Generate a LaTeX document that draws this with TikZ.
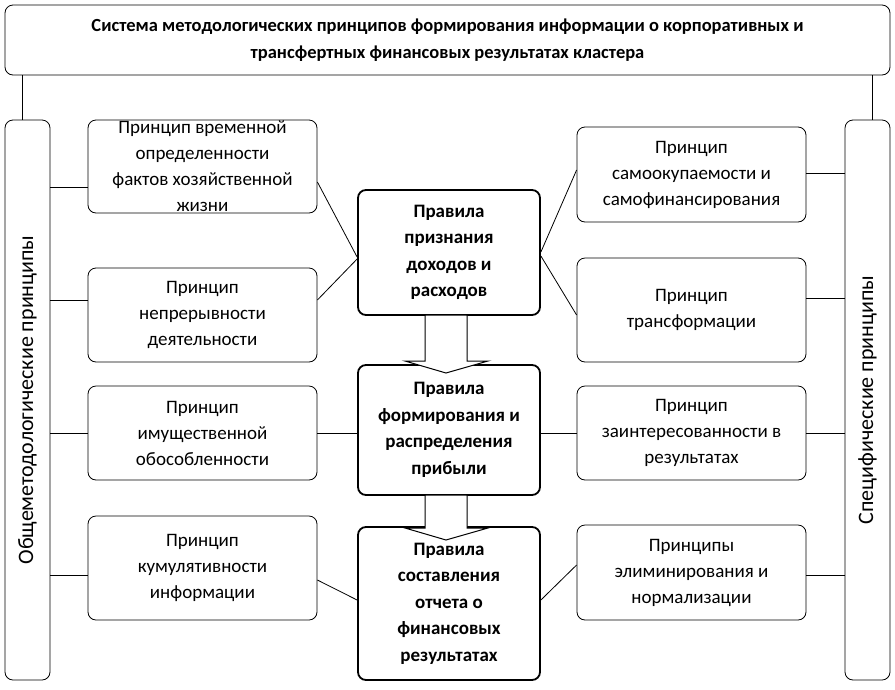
\documentclass[tikz,border=0pt]{standalone}
\usepackage{fontspec}
\setmainfont{Carlito}
\begin{document}
\begin{tikzpicture}[x=1pt,y=-1pt,
  box/.style={draw,rounded corners=8pt,line width=0.8pt,align=center,font=\fontsize{19}{26}\selectfont,inner sep=0pt},
  cbox/.style={box,line width=1.8pt,font=\fontsize{19}{26.5}\selectfont\bfseries},
  harrow/.style={draw,fill=white,line width=1pt},
  ln/.style={line width=0.8pt}]
\useasboundingbox (0,0) rectangle (895,689);
\node[box,minimum width=885,minimum height=70,font=\fontsize{18.5}{27}\selectfont\bfseries] (top) at (447.5,40) {Система методологических принципов формирования информации о корпоративных и\\трансфертных финансовых результатах кластера};
\node[box,minimum width=45,minimum height=560] (L) at (27.5,400) {};
\node[rotate=90,font=\fontsize{22}{24}\selectfont] at (L.center) {Общеметодологические принципы};
\node[box,minimum width=45,minimum height=560] (R) at (867.5,400) {};
\node[rotate=90,font=\fontsize{22}{24}\selectfont] at (R.center) {Специфические принципы};
\draw[ln] (top.south -| L.north) ++(-5,0) coordinate (tl) -- (tl |- L.north);
\draw[ln] (top.south -| R.north) ++(5,0) coordinate (tr) -- (tr |- R.north);

\node[box,minimum width=229,minimum height=93] (l1) at (202.5,166.5) {Принцип временной\\определенности\\фактов хозяйственной\\жизни};
\node[box,minimum width=229,minimum height=94] (l2) at (202.5,315) {Принцип\\непрерывности\\деятельности};
\node[box,minimum width=229,minimum height=94] (l3) at (202.5,433) {Принцип\\имущественной\\обособленности};
\node[box,minimum width=229,minimum height=104] (l4) at (202.5,568) {Принцип\\кумулятивности\\информации};
\node[box,minimum width=229,minimum height=95] (r1) at (691.5,174.5) {Принцип\\самоокупаемости и\\самофинансирования};
\node[box,minimum width=229,minimum height=104] (r2) at (691.5,310) {Принцип\\трансформации};
\node[box,minimum width=229,minimum height=94] (r3) at (691.5,433) {Принцип\\заинтересованности в\\результатах};
\node[box,minimum width=229,minimum height=95] (r4) at (691.5,572.5) {Принципы\\элиминирования и\\нормализации};

\node[cbox,minimum width=182,minimum height=125] (c1) at (449,252.5) {Правила\\признания\\доходов и\\расходов};
\node[cbox,minimum width=182,minimum height=130] (c2) at (449,430) {Правила\\формирования и\\распределения\\прибыли};
\node[cbox,minimum width=182,minimum height=153] (c3) at (449,603.5) {Правила\\составления\\отчета о\\финансовых\\результатах};

\draw[harrow] (425,315) -- (467,315) -- (467,361) -- (488,361) -- (446,373) -- (405,361) -- (425,361) -- cycle;
\draw[harrow] (425,495) -- (467,495) -- (467,528) -- (488,528) -- (446,540) -- (405,528) -- (425,528) -- cycle;

\foreach \n/\y in {l1/187,l2/300,l3/433,l4/575}{\draw[ln] (L.east |- 0,\y) -- (\n.west |- 0,\y);}
\foreach \n/\y in {r1/173,r2/298,r3/433,r4/575}{\draw[ln] (R.west |- 0,\y) -- (\n.east |- 0,\y);}
\draw[ln] (l1.east |- 0,182) -- (c1.west |- 0,257);
\draw[ln] (l2.east |- 0,300) -- (c1.west |- 0,259);
\draw[ln] (l3.east) -- (c2.west |- 0,433);
\draw[ln] (l4.east |- 0,580) -- (c3.west |- 0,600);
\draw[ln] (r1.west |- 0,170) -- (c1.east |- 0,252);
\draw[ln] (r2.west |- 0,315) -- (c1.east |- 0,256);
\draw[ln] (r3.west) -- (c2.east |- 0,433);
\draw[ln] (r4.west |- 0,565) -- (c3.east |- 0,600);
\end{tikzpicture}
\end{document}
